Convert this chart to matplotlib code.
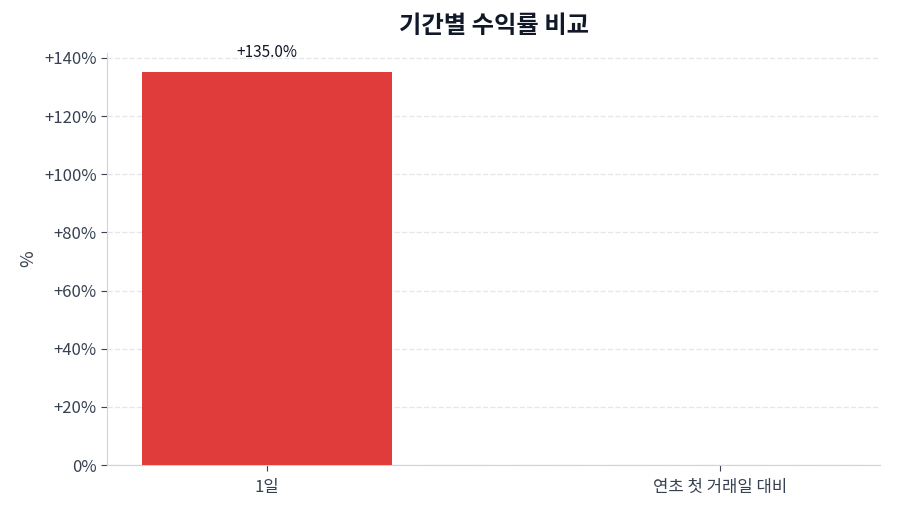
import matplotlib
matplotlib.use("Agg")
from matplotlib import pyplot as plt
from matplotlib.ticker import FuncFormatter

plt.rcParams['font.family'] = ['Noto Sans CJK KR', 'DejaVu Sans']

categories = ["1일", "연초 첫 거래일 대비"]
returns = [135.0, 0.0]
bar_colors = ["#e03c3c", "#e03c3c"]


def pct_fmt(v, pos):
    if v > 0:
        return f"+{v:.0f}%"
    return f"{v:.0f}%"


fig = plt.figure(figsize=(9, 5.14), dpi=100)
ax = fig.add_axes([0.119, 0.0953, 0.859, 0.802])

x = range(len(categories))
bars = ax.bar(x, returns, width=0.55, color=bar_colors, zorder=3)

for b, v in zip(bars, returns):
    if v != 0:
        ax.annotate(f"+{v:.1f}%", (b.get_x() + b.get_width() / 2, v),
                    xytext=(0, 8), textcoords="offset points",
                    ha="center", va="bottom", fontsize=11, color="#111827")

ax.set_ylim(0, max(returns) * 1.05)
ax.set_yticks(range(0, 141, 20))
ax.yaxis.set_major_formatter(FuncFormatter(pct_fmt))
ax.set_xticks(list(x))
ax.set_xticklabels(categories)
ax.tick_params(axis='both', labelsize=12, colors="#374151", length=4)
ax.tick_params(axis='x', pad=6)
ax.set_ylabel("%", fontsize=13, color="#374151", labelpad=5)

ax.grid(axis='y', linestyle='--', color="#e5e7eb", linewidth=1, zorder=0)
ax.spines['top'].set_visible(False)
ax.spines['right'].set_visible(False)
ax.spines['left'].set_color("#cbd5e1")
ax.spines['bottom'].set_color("#cbd5e1")

ax.set_title("기간별 수익률 비교", fontsize=17.5, fontweight='bold',
             color="#111827", pad=14)

fig.savefig("out.png", dpi=100)
